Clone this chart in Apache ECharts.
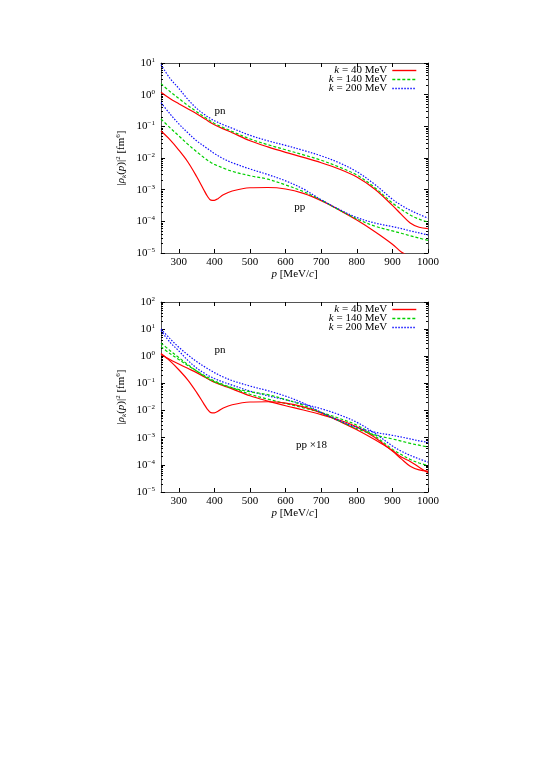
<!DOCTYPE html>
<html>
<head>
<meta charset="utf-8">
<script src="https://cdn.jsdelivr.net/npm/echarts@6/dist/echarts.min.js"></script>
<style>
  html, body { margin: 0; padding: 0; background: #fff; }
  #chart { width: 545px; height: 770px; }
</style>
</head>
<body>
<div id="chart"></div>
<script>
// momentum grid, MeV/c
const p = [250, 275, 300, 325, 350, 375, 390, 400, 425, 450, 500, 550, 600, 650, 700, 750, 800, 850, 900, 925, 950, 975, 1000]
// finer grid for the k = 40 MeV pp curve (dip near 390)
const pDip = [250, 275, 300, 325, 350, 370, 380, 390, 400, 410, 425, 450, 500, 550, 600, 650, 700, 750, 800, 850, 900, 925, 950, 975, 1000]

// |rho_k(p)|^2 for pn, fm^6
const pnK40 = [1.2, 0.76, 0.52, 0.36, 0.25, 0.166, 0.129, 0.112, 0.083, 0.063, 0.035, 0.0224, 0.0151, 0.0105, 0.0071, 0.0045, 0.0025, 0.00105, 3.2e-4, 1.66e-4, 8.9e-5, 6.5e-5, 5.9e-5]
const pnK140 = [2.24, 1.26, 0.76, 0.46, 0.29, 0.186, 0.145, 0.123, 0.091, 0.069, 0.04, 0.0263, 0.0182, 0.0126, 0.0085, 0.0052, 0.0029, 0.00117, 3.8e-4, 2.4e-4, 1.58e-4, 1.17e-4, 9.5e-5]
const pnK200 = [8.9, 3.3, 1.58, 0.72, 0.37, 0.224, 0.174, 0.151, 0.112, 0.087, 0.052, 0.035, 0.025, 0.0174, 0.0117, 0.0071, 0.0037, 0.00148, 5.0e-4, 3.2e-4, 2.24e-4, 1.66e-4, 1.26e-4]

// pp
const ppK40 = [0.071, 0.038, 0.0178, 0.0076, 0.0026, 1.0e-3, 6.3e-4, 4.7e-4, 4.6e-4, 5.2e-4, 6.9e-4, 9.1e-4, 1.15e-3, 1.17e-3, 1.05e-3, 7.6e-4, 4.5e-4, 2.3e-4, 1.1e-4, 4.8e-5, 1.9e-5, 1.07e-5, 7.4e-6, 4.6e-6, 2.8e-6]
const ppK140 = [0.17, 0.091, 0.05, 0.0275, 0.0158, 0.0095, 0.0072, 0.0063, 0.0048, 0.0038, 0.00275, 0.00214, 0.00141, 8.7e-4, 4.7e-4, 2.3e-4, 1.2e-4, 7.1e-5, 5.0e-5, 4.2e-5, 3.5e-5, 2.95e-5, 2.5e-5]
const ppK200 = [0.56, 0.25, 0.12, 0.063, 0.035, 0.022, 0.0166, 0.0138, 0.0095, 0.0071, 0.0045, 0.003, 0.0019, 0.00105, 4.8e-4, 2.4e-4, 1.32e-4, 8.9e-5, 6.8e-5, 5.9e-5, 5.0e-5, 4.3e-5, 3.7e-5]

// pp x18 (lower panel)
const pp18K40 = [1.27, 0.68, 0.32, 0.136, 0.047, 0.018, 0.0114, 0.0084, 0.0082, 0.0094, 0.0124, 0.0164, 0.0207, 0.0211, 0.0188, 0.0136, 0.0082, 0.0041, 0.00197, 8.6e-4, 3.4e-4, 1.93e-4, 1.33e-4, 8.2e-5, 5.1e-5]
const pp18K140 = [3.05, 1.64, 0.9, 0.5, 0.285, 0.172, 0.13, 0.114, 0.086, 0.068, 0.0495, 0.0385, 0.0254, 0.0157, 0.0084, 0.0042, 0.00216, 0.00127, 9.0e-4, 7.5e-4, 6.2e-4, 5.3e-4, 4.5e-4]
const pp18K200 = [10.1, 4.5, 2.16, 1.14, 0.64, 0.39, 0.3, 0.25, 0.172, 0.127, 0.08, 0.054, 0.034, 0.0188, 0.0086, 0.0043, 0.00237, 0.0016, 0.00122, 0.00106, 9.0e-4, 7.7e-4, 6.7e-4]

const legendNames = ['k = 40 MeV', 'k = 140 MeV', 'k = 200 MeV']
const xTicks = [300, 400, 500, 600, 700, 800, 900, 1000]
const topDecades = [1e-5, 1e-4, 1e-3, 1e-2, 1e-1, 1, 10]
const botDecades = [1e-5, 1e-4, 1e-3, 1e-2, 1e-1, 1, 10, 100]

const FONT = 'Liberation Serif'
const RED = '#ff0000'
const GREEN = '#00d000'
const BLUE = '#1010ff'
const BOX = '#555'

const rich = {
  i: { fontFamily: FONT, fontSize: 11, fontStyle: 'italic', color: '#000' },
  sup: { fontFamily: FONT, fontSize: 7, color: '#000', padding: [0, 0, 6, 0] },
  sub: { fontFamily: FONT, fontSize: 7, fontStyle: 'italic', color: '#000', padding: [5, 0, 0, 0] }
}

// gnuplot style log minor ticks: 2..9 in each decade
function minorTicks(decades) {
  let out = []
  for (let d = 0; d < decades.length - 1; d++) {
    for (let m = 2; m <= 9; m++) out.push(m * decades[d])
  }
  return out
}

function powLabel(v) {
  let e = Math.round(Math.log10(v))
  return '10{sup|' + (e < 0 ? '\u2212' + (-e) : e) + '}'
}

function xAxes(gi) {
  let base = {
    type: 'value', gridIndex: gi, min: 250, max: 1000,
    splitLine: { show: false },
    axisLine: { onZero: false, lineStyle: { color: BOX, width: 1 } },
    axisTick: { inside: true, length: 4, customValues: xTicks, lineStyle: { color: '#000' } }
  }
  return [
    Object.assign({}, base, {
      position: 'bottom',
      axisLabel: { customValues: xTicks, formatter: v => String(v), fontFamily: FONT, fontSize: 11, color: '#000', margin: 4 },
      name: '{i|p} [MeV/{i|c}]', nameLocation: 'middle', nameGap: 16,
      nameTextStyle: { fontFamily: FONT, fontSize: 11, color: '#000', rich: rich }
    }),
    Object.assign({}, base, { position: 'top', axisLabel: { show: false } })
  ]
}

function yAxes(gi, max, decades) {
  let base = {
    type: 'log', logBase: 10, gridIndex: gi, min: 1e-5, max: max,
    splitLine: { show: false }, minorTick: { show: false }
  }
  let line = { onZero: false, lineStyle: { color: BOX, width: 1 } }
  let major = { inside: true, length: 4, customValues: decades, lineStyle: { color: '#000' } }
  let minor = { inside: true, length: 2, customValues: minorTicks(decades), lineStyle: { color: '#000' } }
  return [
    Object.assign({}, base, {
      position: 'left', axisLine: line, axisTick: major,
      axisLabel: { customValues: decades, formatter: powLabel, fontFamily: FONT, fontSize: 11, color: '#000', margin: 6, rich: rich },
      name: '|{i|\u03c1}{sub|k}({i|p})|{sup|2} [fm{sup|6}]', nameLocation: 'middle', nameGap: 33,
      nameTextStyle: { fontFamily: FONT, fontSize: 11, color: '#000', rich: rich }
    }),
    Object.assign({}, base, { position: 'right', axisLine: line, axisTick: major, axisLabel: { show: false } }),
    Object.assign({}, base, { position: 'left', axisLine: { show: false }, axisTick: minor, axisLabel: { show: false } }),
    Object.assign({}, base, { position: 'right', axisLine: { show: false }, axisTick: minor, axisLabel: { show: false } })
  ]
}

function curve(name, xs, vals, color, dash, xi, yi) {
  return {
    name: name, type: 'line', xAxisIndex: xi, yAxisIndex: yi,
    data: xs.map((x, i) => [x, vals[i]]),
    symbol: 'none', smooth: 0.35, silent: true,
    lineStyle: { color: color, width: 1.2, type: dash },
    itemStyle: { color: color }
  }
}

function tag(text, coord) {
  return {
    name: text, coord: coord, symbol: 'rect', symbolSize: 0,
    label: { show: true, position: 'inside', formatter: '{b}', fontFamily: FONT, fontSize: 11, color: '#000' }
  }
}

function legend(top) {
  return {
    orient: 'vertical', right: 128, top: top, align: 'right', padding: 0,
    itemWidth: 24, itemHeight: 8, itemGap: -2,
    itemStyle: { opacity: 0 },
    lineStyle: { width: 1.4, color: 'inherit', type: 'inherit', opacity: 1 },
    data: legendNames,
    formatter: n => n.replace('k', '{i|k}'),
    textStyle: {
      fontFamily: FONT, fontSize: 11, color: '#000', lineHeight: 9,
      rich: { i: { fontFamily: FONT, fontSize: 11, fontStyle: 'italic', color: '#000', lineHeight: 9 } }
    }
  }
}

let series = [
  curve(legendNames[0], p, pnK40, RED, 'solid', 0, 0),
  curve(legendNames[1], p, pnK140, GREEN, [3, 2], 0, 0),
  curve(legendNames[2], p, pnK200, BLUE, [1.5, 1.5], 0, 0),
  curve(legendNames[0], pDip, ppK40, RED, 'solid', 0, 0),
  curve(legendNames[1], p, ppK140, GREEN, [3, 2], 0, 0),
  curve(legendNames[2], p, ppK200, BLUE, [1.5, 1.5], 0, 0),
  curve(legendNames[0], p, pnK40, RED, 'solid', 2, 4),
  curve(legendNames[1], p, pnK140, GREEN, [3, 2], 2, 4),
  curve(legendNames[2], p, pnK200, BLUE, [1.5, 1.5], 2, 4),
  curve(legendNames[0], pDip, pp18K40, RED, 'solid', 2, 4),
  curve(legendNames[1], p, pp18K140, GREEN, [3, 2], 2, 4),
  curve(legendNames[2], p, pp18K200, BLUE, [1.5, 1.5], 2, 4)
]
series[0].markPoint = { silent: true, data: [tag('pn', [416, 0.3]), tag('pp', [640, 2.9e-4])] }
series[6].markPoint = { silent: true, data: [tag('pn', [416, 1.7]), tag('pp \u00d718', [673, 5.4e-4])] }

let chart = echarts.init(document.getElementById('chart'), null, { renderer: 'canvas' })
chart.setOption({
  backgroundColor: '#fff',
  animation: false,
  grid: [
    { left: 161, top: 63, width: 267, height: 190 },
    { left: 161, top: 302, width: 267, height: 190 }
  ],
  legend: [legend(65), legend(304)],
  xAxis: xAxes(0).concat(xAxes(1)),
  yAxis: yAxes(0, 10, topDecades).concat(yAxes(1, 100, botDecades)),
  series: series
})
</script>
</body>
</html>
